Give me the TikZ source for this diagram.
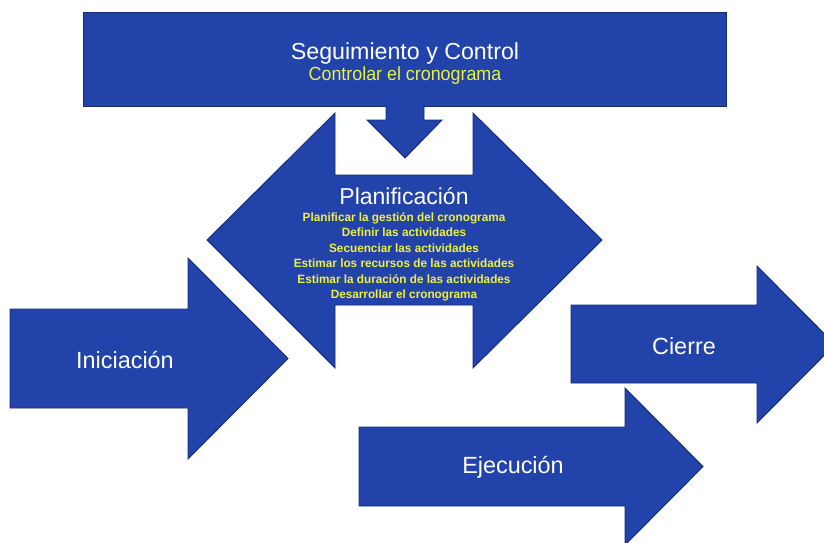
\documentclass[tikz,border=0pt]{standalone}
\usepackage{fontspec}
\setmainfont{Liberation Sans}
\newfontfamily\narrowfont{Liberation Sans}[FakeStretch=0.94]
\newfontfamily\tasklistfont{Liberation Sans}[FakeStretch=0.98]
\definecolor{phaseblue}{RGB}{34,68,170}
\definecolor{phaseedge}{RGB}{22,42,118}
\definecolor{tasktext}{RGB}{240,240,60}
\begin{document}
\begin{tikzpicture}[x=1pt,y=-1pt,
  phase/.style={fill=phaseblue,draw=phaseedge,line width=0.9pt,line join=miter},
  title/.style={text=white,font=\fontsize{23.4}{25}\selectfont,inner sep=0pt},
  tasks/.style={text=tasktext,inner sep=0pt,align=center},
]
\useasboundingbox (0,0) rectangle (824,542);
\begin{scope}
\clip (0,0) rectangle (824,542);

% Seguimiento y Control: block with a downward arrow
\draw[phase] (83,12) rectangle (726,106);
\draw[phase] (386,104) -- (424,104) -- (424,120) -- (442,120) -- (405,158)
  -- (367,120) -- (386,120) -- cycle;
\fill[phaseblue] (387,100) rectangle (423,108);

% Planificacion: double-headed arrow with notches top and bottom
\draw[phase] (207,240) -- (335,113) -- (335,175) -- (473,175) -- (473,113)
  -- (602,240) -- (473,368) -- (473,305) -- (335,305) -- (335,368) -- cycle;

% Iniciacion
\draw[phase] (10,309) -- (188,309) -- (188,258) -- (288,358.5) -- (188,459)
  -- (188,408) -- (10,408) -- cycle;

% Cierre
\draw[phase] (571,305) -- (757,305) -- (757,266) -- (835,344.5) -- (757,423)
  -- (757,383) -- (571,383) -- cycle;

% Ejecucion
\draw[phase] (359,427) -- (625,427) -- (625,388) -- (703,466.5) -- (625,545)
  -- (625,506) -- (359,506) -- cycle;
\end{scope}

% Labels
\node[title,font=\fontsize{23.2}{25}\selectfont] (seg) at (405,53) {Seguimiento y Control};
\node[tasks,font=\narrowfont\fontsize{19}{21}\selectfont] (ctl) at (405,76) {Controlar el cronograma};

\node[title,font=\fontsize{23}{25}\selectfont] (plan) at (404,196) {Planificación};
\node[tasks,anchor=north,font=\tasklistfont\bfseries\fontsize{12}{15.5}\selectfont] (plantasks) at (404,212)
  {Planificar la gestión del cronograma\\
   Definir las actividades\\
   Secuenciar las actividades\\
   Estimar los recursos de las actividades\\
   Estimar la duración de las actividades\\
   Desarrollar el cronograma};

\node[title] (ini) at (125,360) {Iniciación};
\node[title] (cie) at (684,346) {Cierre};
\node[title] (eje) at (513,467) {Ejecución};
\end{tikzpicture}
\end{document}
